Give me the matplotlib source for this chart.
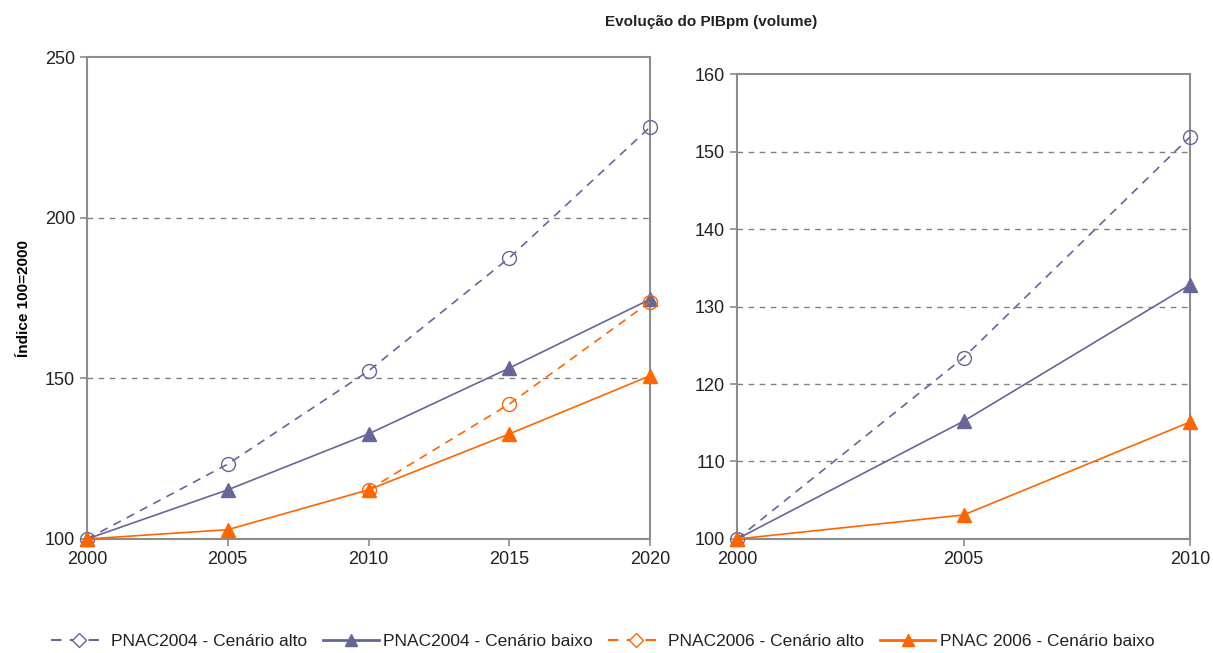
import matplotlib
matplotlib.use('Agg')
import matplotlib.pyplot as plt
from matplotlib.lines import Line2D

plt.rcParams['font.family'] = ['Liberation Sans', 'DejaVu Sans']

nan = float('nan')

# data
years_long = [2000, 2005, 2010, 2015, 2020]
pnac2004_alto = [100, 123.3, 152.3, 187.5, 228.2]
pnac2004_baixo = [100, 115.3, 132.7, 153.2, 174.6]
pnac2006_alto = [nan, nan, 115.3, 142.0, 173.8]
pnac2006_baixo = [100, 102.9, 115.3, 132.7, 150.8]

years_short = [2000, 2005, 2010]
short_alto = [100, 123.4, 151.9]
short_baixo = [100, 115.2, 132.8]
short_2006 = [100, 103.1, 115.1]

labels = ['PNAC2004 - Cenário alto', 'PNAC2004 - Cenário baixo',
          'PNAC2006 - Cenário alto', 'PNAC 2006 - Cenário baixo']

purple = '#666699'
orange = '#FF6600'
spine_c = '#8c8c8c'

fig = plt.figure(figsize=(12.13, 6.53), dpi=100)
ax1 = fig.add_axes([0.0717, 0.1746, 0.4642, 0.738])
ax2 = fig.add_axes([0.6076, 0.1746, 0.3735, 0.712])


def style_axes(ax, ylim, grid_vals, xticks):
    for s in ax.spines.values():
        s.set_color(spine_c)
        s.set_linewidth(1.5)
    ax.set_ylim(*ylim)
    ax.set_xlim(xticks[0], xticks[-1])
    ax.set_xticks(xticks)
    ax.tick_params(colors=spine_c, labelcolor='#222222', labelsize=13,
                   direction='out', length=5, width=1.2)
    for g in grid_vals:
        ax.axhline(g, color='#808080', linestyle=(0, (4, 4)), linewidth=1, zorder=0)


def plot_line(ax, x, y, color, ls, marker, filled):
    ax.plot(x, y, color=color, linestyle=ls, linewidth=1.2, marker=marker,
            markersize=10,
            markerfacecolor=color if filled else 'none',
            markeredgecolor=color, markeredgewidth=1.0,
            clip_on=False, zorder=3)


dash = (0, (5, 4))
style_axes(ax1, (100, 250), [150, 200], years_long)
ax1.set_yticks([100, 150, 200, 250])
plot_line(ax1, years_long, pnac2004_alto, purple, dash, 'o', False)
plot_line(ax1, years_long, pnac2004_baixo, purple, '-', '^', True)
plot_line(ax1, years_long, pnac2006_alto, orange, dash, 'o', False)
plot_line(ax1, years_long, pnac2006_baixo, orange, '-', '^', True)
ax1.set_ylabel('Índice 100=2000', fontsize=11, fontweight='bold', labelpad=10)

style_axes(ax2, (100, 160), [110, 120, 130, 140, 150], years_short)
ax2.set_yticks(range(100, 161, 10))
plot_line(ax2, years_short, short_alto, purple, dash, 'o', False)
plot_line(ax2, years_short, short_baixo, purple, '-', '^', True)
plot_line(ax2, years_short, short_2006, orange, '-', '^', True)

fig.text(0.586, 0.967, 'Evolução do PIBpm (volume)', ha='center', va='center',
         fontsize=11, fontweight='bold', color='#222222')

handles = [
    Line2D([], [], color=purple, linestyle=dash, marker='D', markersize=7,
           markerfacecolor='white', markeredgecolor=purple),
    Line2D([], [], color=purple, linestyle='-', linewidth=2, marker='^', markersize=9,
           markerfacecolor=purple, markeredgecolor=purple),
    Line2D([], [], color=orange, linestyle=dash, marker='D', markersize=7,
           markerfacecolor='white', markeredgecolor=orange),
    Line2D([], [], color=orange, linestyle='-', linewidth=2, marker='^', markersize=9,
           markerfacecolor=orange, markeredgecolor=orange),
]
fig.legend(handles, labels, loc='center', bbox_to_anchor=(0.497, 0.018), ncol=4,
           frameon=False, fontsize=12.5, handlelength=3.2, handletextpad=0.25,
           columnspacing=0.9, labelcolor='#222222')

fig.savefig('out.png', dpi=100)
